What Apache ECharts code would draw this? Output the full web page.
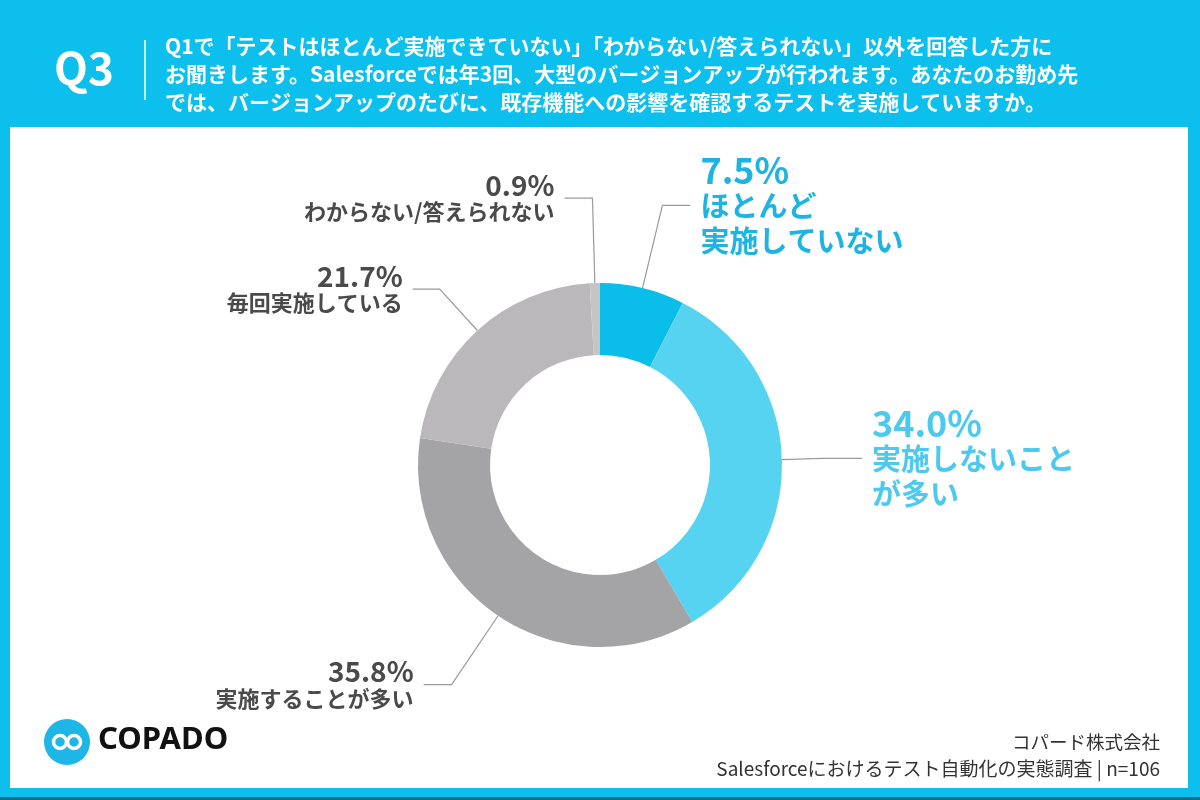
<!DOCTYPE html>
<html>
<head>
<meta charset="utf-8">
<title>Q3 テスト実施状況</title>
<script src="https://cdn.jsdelivr.net/npm/echarts@6/dist/echarts.min.js"></script>
<style>
  html, body { margin: 0; padding: 0; background: #0cbfec; }
  #chart { width: 1200px; height: 800px; }
</style>
</head>
<body>
<div id="chart"></div>
<script>
// データ（開始位置は真上、時計回り）
var labels = ["ほとんど\n実施していない", "実施しないこと\nが多い", "実施することが多い", "毎回実施している", "わからない/答えられない"];
var values = [7.5, 34.0, 35.8, 21.7, 0.9];
var colors = ["#0bbeea", "#55d3f0", "#a4a3a5", "#bbb8bb", "#c6c4c6"];
// ラベル線の長さ（1本目, 2本目）
var lineLen = [[85, 28], [40, 40], [83, 28], [56, 27], [85, 28]];

var questionLines = [
  "Q1で「テストはほとんど実施できていない」「わからない/答えられない」以外を回答した方に",
  "お聞きします。Salesforceでは年3回、大型のバージョンアップが行われます。あなたのお勤め先",
  "では、バージョンアップのたびに、既存機能への影響を確認するテストを実施していますか。"
];

var font = "'Noto Sans CJK JP', 'Noto Sans', sans-serif";

var myChart = echarts.init(document.getElementById('chart'));

var pieData = values.map(function (v, i) {
  var blue = i < 2;
  var c = blue ? (i === 0 ? '#1db3e2' : '#4cc9ee') : '#4a4a4a';
  return {
    name: labels[i],
    value: v,
    itemStyle: { color: colors[i] },
    labelLine: { length: lineLen[i][0], length2: lineLen[i][1] },
    label: {
      rich: {
        n: {
          fontFamily: font, fontWeight: 'bold',
          fontSize: blue ? 36 : 28,
          lineHeight: blue ? 36 : 28,
          color: c
        },
        t: {
          fontFamily: font, fontWeight: 'bold',
          fontSize: blue ? 29 : 22,
          lineHeight: blue ? 35 : 26,
          color: c
        }
      }
    }
  };
});

var option = {
  backgroundColor: '#0cbfec',
  animation: false,
  graphic: [
    // 白いパネル
    { type: 'rect', shape: { x: 10, y: 127, width: 1178, height: 661 }, style: { fill: '#ffffff' }, z: -10 },
    { type: 'rect', shape: { x: 0, y: 797, width: 1200, height: 3 }, style: { fill: '#0f6f86' }, z: -10 },
    // ヘッダー
    { type: 'text', left: 54, top: 46, style: { text: 'Q3', fill: '#fff', font: "bold 44px " + font } },
    { type: 'line', shape: { x1: 145, y1: 40, x2: 145, y2: 100 }, style: { stroke: '#ffffff', lineWidth: 1.5 } },
    { type: 'text', left: 165, top: 32, style: { text: questionLines.join('\n'), fill: '#fff', font: "bold 21px " + font, lineHeight: 28 } },
    // ロゴ
    { type: 'circle', shape: { cx: 67, cy: 742, r: 23 }, style: { fill: '#1eb6e6' } },
    { type: 'circle', shape: { cx: 60, cy: 742, r: 6.5 }, style: { fill: 'none', stroke: '#fff', lineWidth: 3.5 } },
    { type: 'circle', shape: { cx: 74, cy: 742, r: 6.5 }, style: { fill: 'none', stroke: '#fff', lineWidth: 3.5 } },
    { type: 'text', left: 98, top: 725, style: { text: 'COPADO', fill: '#111', font: "bold 31px 'Noto Sans', sans-serif" } },
    // 出典
    { type: 'text', right: 40, top: 733, style: { text: 'コパード株式会社', fill: '#333', font: "18.5px " + font, align: 'right' } },
    { type: 'text', right: 40, top: 759, style: { text: 'Salesforceにおけるテスト自動化の実態調査 | n=106', fill: '#333', font: "19px " + font, align: 'right' } }
  ],
  series: [
    {
      type: 'pie',
      center: [600, 465],
      radius: [110, 182],
      startAngle: 90,
      clockwise: true,
      avoidLabelOverlap: false,
      data: pieData,
      label: {
        show: true,
        position: 'outside',
        distanceToLabelLine: 10,
        formatter: function (p) {
          return '{n|' + p.value.toFixed(1) + '%}\n{t|' + p.name.split('\n').join('}\n{t|') + '}';
        }
      },
      labelLine: {
        show: true,
        lineStyle: { color: '#9a9a9a', width: 1.2 }
      },
      emphasis: { disabled: true }
    }
  ]
};

myChart.setOption(option);
window.addEventListener("resize", function () {
  myChart.resize();
});
</script>
</body>
</html>
